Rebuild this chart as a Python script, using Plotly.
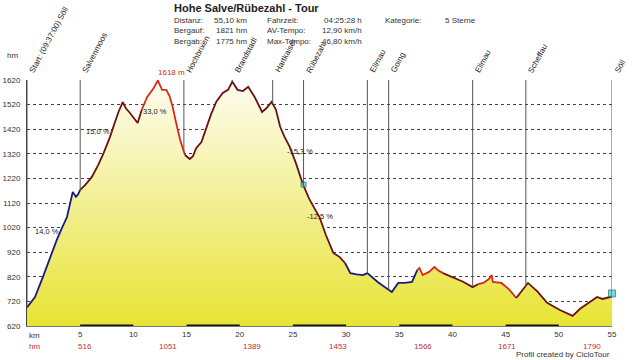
import numpy as np
import plotly.graph_objects as go

# ---- profile data (km, elevation m) ----
km = [0, 0.75, 1.5, 2.16, 2.8, 3.3, 3.76, 4.3, 4.6, 4.8, 5.0, 5.5, 6.1, 6.7, 7.2, 7.8, 8.2, 8.6, 9.0, 9.3,
      9.7, 10.1, 10.4, 10.8, 11.3, 11.9, 12.3, 12.7, 13.1, 13.4, 13.7, 14.0, 14.4, 14.85, 15.3, 15.6, 15.9,
      16.4, 16.9, 17.3, 17.8, 18.4, 18.9, 19.3, 19.8, 20.3, 20.8, 21.4, 22.1, 22.5, 23.0, 23.4, 23.8, 24.2,
      24.7, 25.3, 25.9, 26.5, 27.0, 27.5, 28.1, 28.8, 29.4, 29.9, 30.4, 31.0, 31.6, 32.0, 32.5, 33.0, 33.6,
      34.3, 34.9, 35.5, 36.2, 36.5, 36.7, 36.9, 37.2, 37.8, 38.3, 38.7, 39.1, 40.0, 41.0, 41.9, 42.4, 42.9,
      43.4, 43.7, 43.8, 44.6, 45.3, 46.0, 46.5, 47.1, 48.0, 48.9, 50.1, 51.3, 52.0, 52.8, 53.6, 54.1, 54.6, 55.0]
elev = [695, 738, 820, 900, 970, 1020, 1063, 1165, 1145, 1155, 1173, 1195, 1226, 1275, 1323, 1388, 1440, 1490, 1530, 1505,
        1485, 1460, 1445, 1500, 1551, 1586, 1618, 1580, 1580, 1555, 1510, 1450, 1376, 1315, 1299, 1310, 1343,
        1368, 1430, 1480, 1532, 1567, 1580, 1613, 1580, 1575, 1592, 1551, 1490, 1505, 1531, 1500, 1430, 1390,
        1348, 1280, 1201, 1140, 1100, 1063, 990, 917, 900, 876, 835, 830, 827, 835, 815, 798, 780,
        758, 795, 795, 799, 830, 848, 856, 827, 840, 860, 845, 835, 819, 800, 778, 790, 795,
        810, 827, 799, 795, 770, 734, 760, 795, 760, 714, 685, 661, 690, 715, 738, 730, 735, 740]

# line colour segments (breakpoints in km)
seg_breaks = [0, 5.0, 10.8, 14.85, 29.9, 36.7, 39.1, 42.4, 46.0, 55.0]
seg_colors = ["#1c1c78", "#6b1212", "#d42a1e", "#6b1212", "#1c1c78", "#d42a1e", "#6b1212", "#d42a1e", "#6b1212"]

# waypoints
wp_km = [0, 5.0, 14.75, 19.3, 23.1, 26.0, 32.0, 34.0, 41.9, 46.9, 55.0]
wp_names = ["Start: (09:37:00) Söll", "Salvenmoos", "Hochbrixen", "Brandstadl", "Hartkaiser", "Rübezahl",
            "Ellmau", "Going", "Ellmau", "Scheffau", "Söll"]

# gradient labels
grad_km = [1.9, 6.7, 12.0, 25.7, 27.5]
grad_el = [1006, 1409, 1490, 1331, 1067]
grad_txt = ["14,0 %", "15,0 %", "33,0 %", "-15,3 %", "-12,5 %"]

# cumulative climb labels
hm_km = [5.45, 13.25, 21.2, 29.2, 37.2, 45.1, 53.1]
hm_vals = ["516", "1051", "1389", "1453", "1566", "1671", "1790"]

# markers
mark_km = [26.0, 55.0]
mark_el = [1195, 752]

km_ticks = list(range(5, 60, 5))
elev_ticks = list(range(620, 1720, 100))

info_left = [("Distanz:", "55,10 km"), ("Bergauf:", "1821 hm"), ("Bergab:", "1775 hm")]
info_mid = [("Fahrzeit:", "04:25:28 h"), ("AV-Tempo:", "12,90 km/h"), ("Max-Tempo:", "46,80 km/h")]
info_right = [("Kategorie:", "5 Sterne")]

FONT = "Liberation Sans, Arial, sans-serif"

fig = go.Figure()

# filled area with vertical gradient
fig.add_trace(go.Scatter(
    x=km, y=elev, mode="lines", line=dict(width=0, color="rgba(0,0,0,0)"),
    fill="tozeroy",
    fillgradient=dict(type="vertical", start=620, stop=1620,
                      colorscale=[[0, "#e8e434"], [0.45, "#f1ee8a"], [1, "#fefdf0"]]),
    hoverinfo="skip", showlegend=False))

# waypoint vertical lines
km_arr = np.array(km, dtype=float)
el_arr = np.array(elev, dtype=float)
for k in wp_km:
    yb = float(np.interp(k, km_arr, el_arr))
    fig.add_shape(type="line", x0=k, x1=k, y0=yb, y1=1620, xref="x", yref="y",
                  line=dict(color="#555555", width=1), layer="above")

# line segments
for i, c in enumerate(seg_colors):
    a, b = seg_breaks[i], seg_breaks[i + 1]
    idx = [j for j, k in enumerate(km) if a <= k <= b]
    fig.add_trace(go.Scatter(x=[km[j] for j in idx], y=[elev[j] for j in idx], mode="lines",
                             line=dict(color=c, width=1.8), hoverinfo="skip", showlegend=False))

# markers
fig.add_trace(go.Scatter(x=mark_km, y=mark_el, mode="markers",
                         marker=dict(symbol="square", size=[5, 7], color="#3ccccc",
                                     line=dict(color="#206060", width=1)),
                         cliponaxis=False, hoverinfo="skip", showlegend=False))

# black bars along x-axis
for a in range(5, 55, 10):
    fig.add_shape(type="line", x0=a, x1=a + 5, y0=620, y1=620, xref="x", yref="y",
                  line=dict(color="#111111", width=3), layer="above")

ann = []
# waypoint labels
for k, n in zip(wp_km, wp_names):
    ann.append(dict(x=k, y=1, xref="x", yref="paper", text=n, showarrow=False, textangle=-62,
                    xanchor="left", yanchor="bottom", xshift=-2, yshift=3,
                    font=dict(size=8, color="#222", family=FONT)))
# gradient labels
for k, e, t in zip(grad_km, grad_el, grad_txt):
    ann.append(dict(x=k, y=e, xref="x", yref="y", text=t, showarrow=False,
                    font=dict(size=7.5, color="#222", family=FONT)))
# peak label
ann.append(dict(x=13.6, y=1, xref="x", yref="paper", text="1618 m", showarrow=False, yanchor="bottom",
                yshift=1, font=dict(size=8, color="#c03030", family=FONT)))
# hm row
ann.append(dict(x=0, y=0, xref="x", yref="paper", text="hm", showarrow=False, xanchor="left",
                yanchor="top", yshift=-14, font=dict(size=8, color="#c03030", family=FONT)))
for k, v in zip(hm_km, hm_vals):
    ann.append(dict(x=k, y=0, xref="x", yref="paper", text=v, showarrow=False,
                    yanchor="top", yshift=-14, font=dict(size=8, color="#c03030", family=FONT)))
ann.append(dict(x=0, y=0, xref="x", yref="paper", text="km", showarrow=False, xanchor="left",
                yanchor="top", yshift=-3, font=dict(size=8, color="#333", family=FONT)))
ann.append(dict(x=0, y=1, xref="paper", yref="paper", text="hm", showarrow=False, xanchor="right",
                yanchor="bottom", xshift=-7, yshift=18, font=dict(size=8, color="#333", family=FONT)))
# header
ann.append(dict(x=172, y=8, xref="paper", yref="paper", text="<b>Hohe Salve/Rübezahl - Tour</b>",
                showarrow=False, xanchor="left", yanchor="middle",
                font=dict(size=11, color="#222", family=FONT)))
rows_y = [20, 31, 42]
cols = [(info_left, 172, 249), (info_mid, 265, 364)]
for items, xl, xr in cols:
    for (lab, val), yy in zip(items, rows_y):
        ann.append(dict(xref="paper", yref="paper", x=xl, y=yy, text=lab, showarrow=False, xanchor="left",
                        font=dict(size=8, color="#333", family=FONT)))
        ann.append(dict(xref="paper", yref="paper", x=xr, y=yy, text=val, showarrow=False, xanchor="right",
                        font=dict(size=8, color="#333", family=FONT)))
for (lab, val), yy in zip(info_right, rows_y):
    ann.append(dict(xref="paper", yref="paper", x=383, y=yy, text=lab, showarrow=False, xanchor="left",
                    font=dict(size=8, color="#333", family=FONT)))
    ann.append(dict(xref="paper", yref="paper", x=443, y=yy, text=val, showarrow=False, xanchor="left",
                    font=dict(size=8, color="#333", family=FONT)))
ann.append(dict(x=1, y=0, xref="paper", yref="paper", text="Profil created by CicloTour", showarrow=False,
                xanchor="right", yanchor="top", yshift=-22, font=dict(size=8, color="#333", family=FONT)))

# convert pixel-positioned header annotations to paper coords
L, R, T, B = 27, 28, 80, 34
W, H = 640, 360
pw, ph = W - L - R, H - T - B
for a in ann:
    if a.get("xref") == "paper" and a.get("yref") == "paper" and a["x"] > 1.5:
        a["x"] = (a["x"] - L) / pw
        a["y"] = (H - B - a["y"]) / ph
        a.setdefault("yanchor", "middle")

fig.update_layout(
    width=W, height=H, margin=dict(l=L, r=R, t=T, b=B, autoexpand=False),
    paper_bgcolor="white", plot_bgcolor="white",
    font=dict(family=FONT, size=8, color="#333"),
    annotations=ann, showlegend=False,
    xaxis=dict(range=[0, 55], tickvals=km_ticks, showgrid=False, zeroline=False, automargin=False,
               showline=True, linecolor="#777", linewidth=1, ticks="", tickfont=dict(size=8)),
    yaxis=dict(range=[620, 1620], tickvals=elev_ticks, showgrid=True, gridcolor="#444", automargin=False,
               griddash="dot", gridwidth=1, zeroline=False, showline=True, linecolor="#444",
               linewidth=1, ticks="", tickfont=dict(size=8), ticklabelstandoff=4),
)

fig.write_html("out.html", config={"displayModeBar": False},
               post_script="document.body.style.margin='0px';")
